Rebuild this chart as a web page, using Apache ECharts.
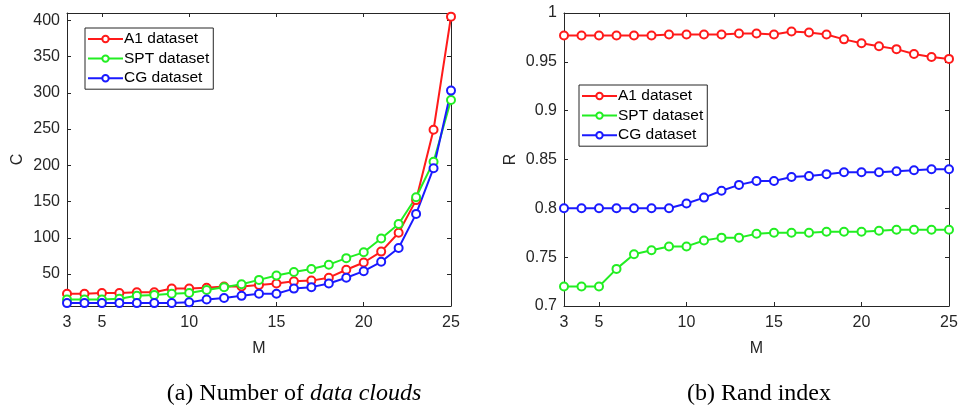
<!DOCTYPE html>
<html><head><meta charset="utf-8">
<script src="https://cdn.jsdelivr.net/npm/echarts@6/dist/echarts.min.js"></script>
<style>html,body{margin:0;padding:0;background:#fff}#c{width:961px;height:409px}</style>
</head><body><div id="c"></div>
<script>
const M = [3,4,5,6,7,8,9,10,11,12,13,14,15,16,17,18,19,20,21,22,23,24,25];
const xTickLabels = [3,5,10,15,20,25];
const cTicks = [50,100,150,200,250,300,350,400];
const rTicks = [0.7,0.75,0.8,0.85,0.9,0.95,1];
const seriesNames = ['A1 dataset','SPT dataset','CG dataset'];
const colors = ['#ff1a1a','#22ee22','#1a1aff'];

// (a) Number of data clouds
const cA1  = [23,23,24,24,25,25,30,30,31,33,33,35,37,40,41,45,56,66,81,107,152,249,405];
const cSPT = [15,15,15,16,20,21,23,24,28,32,36,42,48,53,57,63,72,80,99,119,156,205,290];
const cCG  = [10,10,10,10,10,10,10,11,15,17,20,23,23,30,32,37,45,54,67,86,133,196,303];

// (b) Rand index
const rA1  = [0.977,0.977,0.977,0.977,0.977,0.977,0.978,0.978,0.978,0.978,0.979,0.979,0.978,0.981,0.980,0.978,0.973,0.969,0.966,0.963,0.958,0.955,0.953];
const rSPT = [0.720,0.720,0.720,0.738,0.753,0.757,0.761,0.761,0.767,0.770,0.770,0.774,0.775,0.775,0.775,0.776,0.776,0.776,0.777,0.778,0.778,0.778,0.778];
const rCG  = [0.800,0.800,0.800,0.800,0.800,0.800,0.800,0.805,0.811,0.818,0.824,0.828,0.828,0.832,0.833,0.835,0.837,0.837,0.837,0.838,0.839,0.840,0.840];

const axCol = '#262626';
const font = 'Liberation Sans, Arial, sans-serif';
const serif = 'Liberation Serif, Times New Roman, serif';
const pair = arr => M.map((m,i)=>[m, arr[i]]);

function xAx(g, top){
  return {type:'value', gridIndex:g, min:3, max:25, position: top?'top':'bottom',
    name: top?'':'M', nameLocation:'middle', nameGap:35,
    nameTextStyle:{color:axCol, fontSize:16, fontFamily:font},
    axisLine:{show:true, onZero:false, lineStyle:{color:axCol, width:1}},
    axisTick:{show:true, inside:true, length:4, lineStyle:{color:axCol}, customValues:[5,10,15,20]},
    axisLabel:{show:!top, color:axCol, fontSize:16, fontFamily:font, margin:9, customValues:xTickLabels},
    splitLine:{show:false}};
}
function yAx(g, right, min, max, ticks, name, gap, fmt){
  return {type:'value', gridIndex:g, min:min, max:max, position: right?'right':'left',
    name: right?'':name, nameLocation:'middle', nameGap:gap, nameRotate:90,
    nameTextStyle:{color:axCol, fontSize:16, fontFamily:font},
    axisLine:{show:true, onZero:false, lineStyle:{color:axCol, width:1}},
    axisTick:{show:true, inside:true, length:4, lineStyle:{color:axCol}, customValues:ticks},
    axisLabel:{show:!right, color:axCol, fontSize:16, fontFamily:font, margin:7, customValues:ticks, formatter:fmt},
    splitLine:{show:false}};
}
function ser(name, data, idx, xi, yi){
  return {type:'line', name:name, data:pair(data), xAxisIndex:xi, yAxisIndex:yi,
    symbol:'emptyCircle', symbolSize:8, showAllSymbol:true, animation:false,
    lineStyle:{color:colors[idx], width:2},
    itemStyle:{color:colors[idx], borderColor:colors[idx], borderWidth:1.6}};
}
function legend(left, top){
  return {left:left, top:top, orient:'vertical', data:seriesNames,
    borderColor:axCol, borderWidth:1, padding:[3,4,3,2], itemGap:3.6,
    itemWidth:35, itemHeight:8, selectedMode:false,
    textStyle:{color:'#000', fontSize:15.5, fontFamily:font, padding:[0,0,0,-4]}};
}

const chart = echarts.init(document.getElementById('c'));
chart.setOption({
  backgroundColor:'#fff',
  animation:false,
  grid:[
    {left:67, top:13, width:384, height:293},
    {left:564, top:13, width:385, height:293}
  ],
  xAxis:[xAx(0,false), xAx(0,true), xAx(1,false), xAx(1,true)],
  yAxis:[
    yAx(0,false,6,410,cTicks,'C',41, v=>String(v)),
    yAx(0,true,6,410,cTicks,'',0, v=>String(v)),
    yAx(1,false,0.7,1,rTicks,'R',45, v=>String(+v.toFixed(2))),
    yAx(1,true,0.7,1,rTicks,'',0, v=>String(+v.toFixed(2)))
  ],
  legend:[legend(85,28), legend(579,85)],
  series:[
    ser(seriesNames[0], cA1, 0, 0, 0),
    ser(seriesNames[1], cSPT, 1, 0, 0),
    ser(seriesNames[2], cCG, 2, 0, 0),
    ser(seriesNames[0], rA1, 0, 2, 2),
    ser(seriesNames[1], rSPT, 1, 2, 2),
    ser(seriesNames[2], rCG, 2, 2, 2)
  ],
  graphic:[
    {type:'text', x:294, y:394, style:{text:'{n|(a) Number of }{i|data clouds}', align:'center', verticalAlign:'middle',
      rich:{n:{fontFamily:serif, fontSize:24, fill:'#000'},
            i:{fontFamily:serif, fontSize:24, fontStyle:'italic', fill:'#000'}}}},
    {type:'text', x:759, y:394, style:{text:'(b) Rand index', align:'center', verticalAlign:'middle',
      fontFamily:serif, fontSize:24, fill:'#000'}}
  ]
});
</script></body></html>
